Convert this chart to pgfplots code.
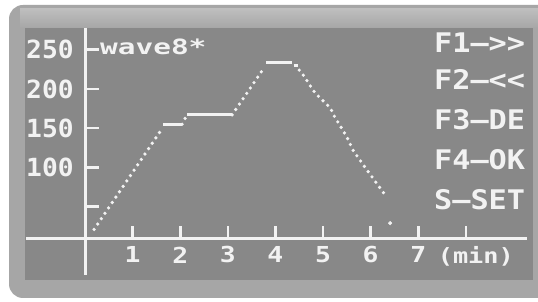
\documentclass[border=0pt]{standalone}
\usepackage{fontspec}
\usepackage{pgfplots}
\pgfplotsset{compat=1.18}
\newfontfamily\lcdY[FakeStretch=1.05]{DejaVu Sans Mono Bold}
\newfontfamily\lcdX[FakeStretch=1.2]{DejaVu Sans Mono Bold}
\newfontfamily\lcdR[FakeStretch=1.12]{DejaVu Sans Mono Bold}
\newfontfamily\lcdW[FakeStretch=1.4]{DejaVu Sans Mono Bold}
\definecolor{lcdbg}{RGB}{136,136,136}
\definecolor{framec}{RGB}{166,166,166}
\definecolor{frametop}{RGB}{190,190,190}
\definecolor{lcdfg}{RGB}{242,242,242}
\begin{document}
\begin{tikzpicture}
\path[use as bounding box, clip] (0,0) rectangle (538pt,302pt);
\fill[white] (0,0) rectangle (538pt,302pt);
\fill[framec, rounded corners=14pt] (9pt,4pt) rectangle (570pt,297pt);
\shade[top color=frametop, bottom color=framec] (20pt,274pt) rectangle (538pt,293pt);
\fill[lcdbg] (25pt,22pt) rectangle (533pt,274pt);
\begin{axis}[at={(26pt,27pt)}, anchor=south west, x=47.6pt, y=0.785pt,
  xmin=-1.24, xmax=9.3, ymin=-37, ymax=278, hide axis, clip=false]
% axes
\draw[lcdfg, line width=3pt] (axis cs:-1.24,9.3) -- (axis cs:9.29,9.3);
\draw[lcdfg, line width=3pt] (axis cs:0,-37) -- (axis cs:0,278);
\pgfplotsinvokeforeach{1,...,8}{\draw[lcdfg, line width=2.6pt] (axis cs:#1,9.3) -- (axis cs:#1,26);}
\pgfplotsinvokeforeach{50,100,...,250}{\draw[lcdfg, line width=2.6pt] (axis cs:0,#1) -- (axis cs:0.294,#1);}
% y labels
\pgfplotsinvokeforeach{100,150,200,250}{\node[anchor=west, inner sep=0, text=lcdfg, font=\lcdY\fontsize{25}{25}\selectfont] at (axis cs:-1.24,#1) {#1};}
% x labels
\pgfplotsinvokeforeach{1,...,7}{\node[anchor=center, inner sep=0, text=lcdfg, font=\lcdX\fontsize{22}{22}\selectfont] at (axis cs:#1,-11.5) {#1};}
\node[anchor=center, inner sep=0, text=lcdfg, font=\lcdX\fontsize{21}{21}\selectfont] at (axis cs:8.21,-12.7) {(min)};
% title
\node[anchor=base west, inner sep=0, text=lcdfg, font=\lcdW\fontsize{21}{21}\selectfont] at (axis cs:0.315,243.3) {wave8*};
% right menu
\node[anchor=base west, inner sep=0, text=lcdfg, font=\lcdR\fontsize{27}{27}\selectfont] at (axis cs:7.33,245.9) {F1—>>};
\node[anchor=base west, inner sep=0, text=lcdfg, font=\lcdR\fontsize{27}{27}\selectfont] at (axis cs:7.33,198.7) {F2—<<};
\node[anchor=base west, inner sep=0, text=lcdfg, font=\lcdR\fontsize{27}{27}\selectfont] at (axis cs:7.33,147.8) {F3—DE};
\node[anchor=base west, inner sep=0, text=lcdfg, font=\lcdR\fontsize{27}{27}\selectfont] at (axis cs:7.33,96.8) {F4—OK};
\node[anchor=base west, inner sep=0, text=lcdfg, font=\lcdR\fontsize{27}{27}\selectfont] at (axis cs:7.33,45.9) {S—SET};
% data
\addplot[lcdfg, line width=3.6pt, line cap=round, dash pattern=on 0pt off 6.5pt] coordinates {(0.19,21) (1.57,145)};
\addplot[lcdfg, line width=3pt] coordinates {(1.64,155) (2.04,155)};
\addplot[lcdfg, line width=3.6pt, line cap=round, dash pattern=on 0pt off 6.5pt] coordinates {(2.04,155) (2.14,167)};
\addplot[lcdfg, line width=3pt] coordinates {(2.14,167) (3.09,167)};
\addplot[lcdfg, line width=3.6pt, line cap=round, dash pattern=on 0pt off 6.5pt] coordinates {(3.09,167) (3.74,225)};
\addplot[lcdfg, line width=3pt] coordinates {(3.80,234) (4.35,234)};
\addplot[lcdfg, line width=3pt] coordinates {(4.38,230) (4.48,230)};
\addplot[lcdfg, line width=3.6pt, line cap=round, dash pattern=on 0pt off 6.5pt] coordinates {(4.50,224) (4.56,220) (4.83,195) (5.15,176) (5.25,164) (5.50,139) (5.63,122) (5.92,97) (6.34,62)};
\addplot[only marks, mark=*, mark size=1.8pt, color=lcdfg] coordinates {(6.41,29)};
\end{axis}
\end{tikzpicture}
\end{document}
